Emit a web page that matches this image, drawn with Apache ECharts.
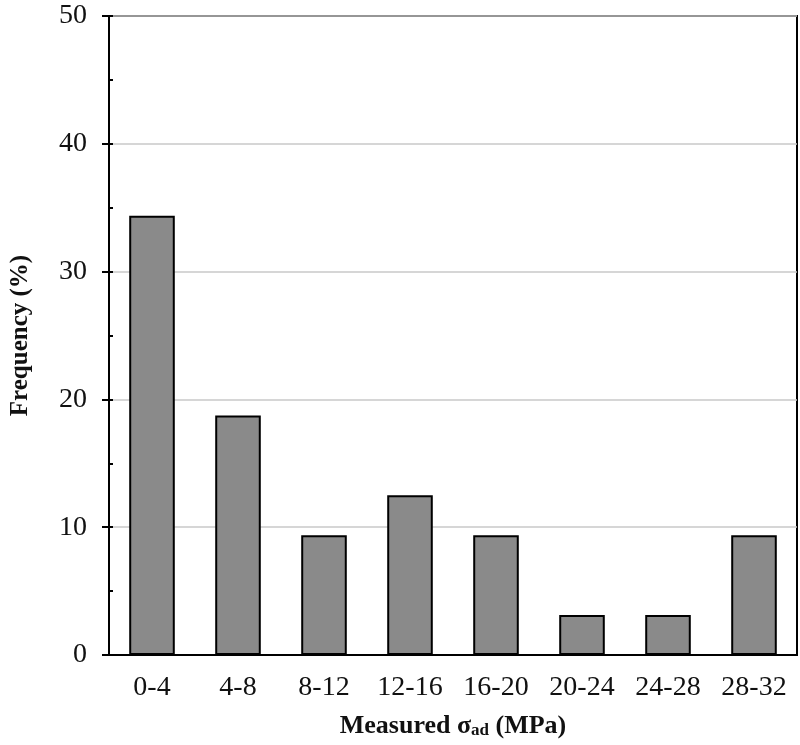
<!DOCTYPE html>
<html>
<head>
<meta charset="utf-8">
<script src="https://cdn.jsdelivr.net/npm/echarts@6/dist/echarts.min.js"></script>
<style>html,body{margin:0;padding:0;background:#fff}#c{width:800px;height:745px}</style>
</head>
<body>
<div id="c"></div>
<script>
const categories = ['0-4','4-8','8-12','12-16','16-20','20-24','24-28','28-32'];
const frequency = [34.375, 18.75, 9.375, 12.5, 9.375, 3.125, 3.125, 9.375];
const yMin = 0, yMax = 50, yStep = 10, yMinorStep = 5;

const font = '"Liberation Serif", "Times New Roman", serif';
const chart = echarts.init(document.getElementById('c'));
chart.setOption({
  animation: false,
  backgroundColor: '#fff',
  grid: {left: 106, right: 3, top: 16, bottom: 90, show: true, borderColor: '#000', borderWidth: 2, backgroundColor: 'transparent'},
  xAxis: {
    type: 'category', data: categories,
    axisLine: {lineStyle: {color: '#000', width: 2}},
    axisTick: {show: false},
    axisLabel: {color: '#111', fontFamily: font, fontSize: 28, margin: 19},
    name: '{a|Measured σ}{s|ad}{a| (MPa)}',
    nameLocation: 'middle', nameGap: 54,
    nameTextStyle: {
      fontFamily: font, fontSize: 26, fontWeight: 'bold', color: '#111',
      rich: {
        a: {fontFamily: font, fontSize: 26, fontWeight: 'bold', color: '#111', lineHeight: 30, verticalAlign: 'bottom'},
        s: {fontFamily: font, fontSize: 17, fontWeight: 'bold', color: '#111', lineHeight: 30, verticalAlign: 'bottom', padding: [8, 0, 0, 0]}
      }
    }
  },
  yAxis: [{
    type: 'value', min: yMin, max: yMax, interval: yStep,
    axisLine: {show: true, lineStyle: {color: '#000', width: 2}},
    axisTick: {show: true, length: 7, lineStyle: {color: '#000', width: 2}},
    axisLabel: {color: '#111', fontFamily: font, fontSize: 28, margin: 22},
    splitLine: {show: true, lineStyle: {color: '#c8c8c8', width: 1.5}},
    name: 'Frequency (%)', nameLocation: 'middle', nameGap: 76,
    nameTextStyle: {fontFamily: font, fontSize: 25, fontWeight: 'bold', color: '#111'}
  }, {
    type: 'value', min: yMin, max: yMax, interval: yMinorStep, position: 'left',
    axisLine: {show: false},
    axisTick: {show: true, inside: true, length: 4, lineStyle: {color: '#000', width: 2}},
    axisLabel: {show: false},
    splitLine: {show: false}
  }],
  series: [{
    type: 'bar', data: frequency, yAxisIndex: 0,
    barCategoryGap: '47%',
    itemStyle: {color: '#8a8a8a', borderColor: '#000', borderWidth: 2}
  }]
});
</script>
</body>
</html>
